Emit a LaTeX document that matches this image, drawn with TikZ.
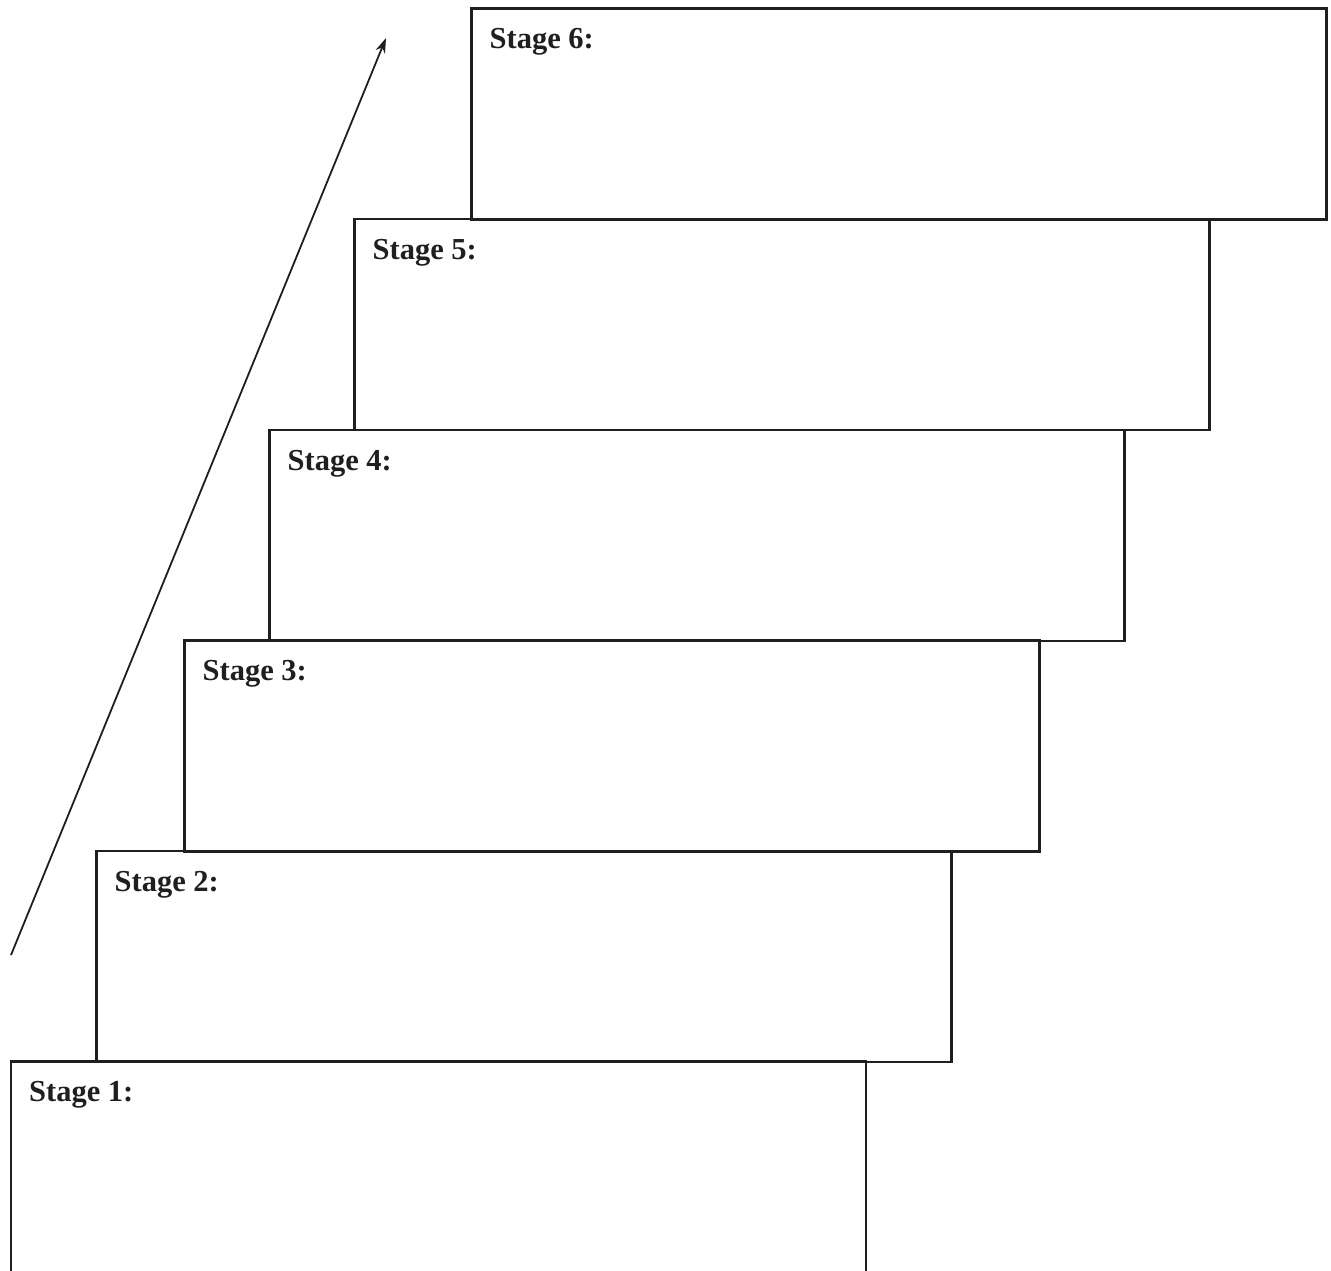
\documentclass[tikz,border=0pt]{standalone}
\usepackage{fontspec}
\setmainfont{Liberation Serif}
\usetikzlibrary{arrows.meta}
\begin{document}
\begin{tikzpicture}[x=1pt,y=-1pt,
  stagebox/.style={draw=black!88, line width=2.6pt, anchor=north west, outer sep=0pt, minimum width=855pt, minimum height=211pt, inner sep=0pt},
  stagelabel/.style={anchor=base west, inner sep=0pt, font=\fontsize{30.5}{32}\selectfont\bfseries, text=black!88}]
\useasboundingbox (0,0) rectangle (1331,1270);
\clip (0,0) rectangle (1331,1270);
\node[stagebox] (s6) at (471.5,8.5) {};
\node[stagebox] (s5) at (354.5,219) {};
\node[stagebox] (s4) at (269.5,430) {};
\node[stagebox] (s3) at (184.5,640.5) {};
\node[stagebox] (s2) at (96.5,851) {};
\node[stagebox, draw=none, minimum height=240pt] (s1) at (11,1061.5) {};
\draw[draw=black!88, line width=2.6pt] (s1.south west) -- (s1.north west) -- (s1.north east) -- (s1.south east);
\foreach \n/\t in {s1/1,s2/2,s3/3,s4/4,s5/5,s6/6}{
  \node[stagelabel] (l\n) at ([shift={(18pt,-40pt)}]\n.north west) {Stage \t:};
}
\coordinate (a0) at (11,955);
\coordinate (a1) at (386,38);
\draw[black!88, line width=1.8pt, -{Stealth[length=15pt,width=10pt]}] (a0) -- (a1);
\end{tikzpicture}
\end{document}
